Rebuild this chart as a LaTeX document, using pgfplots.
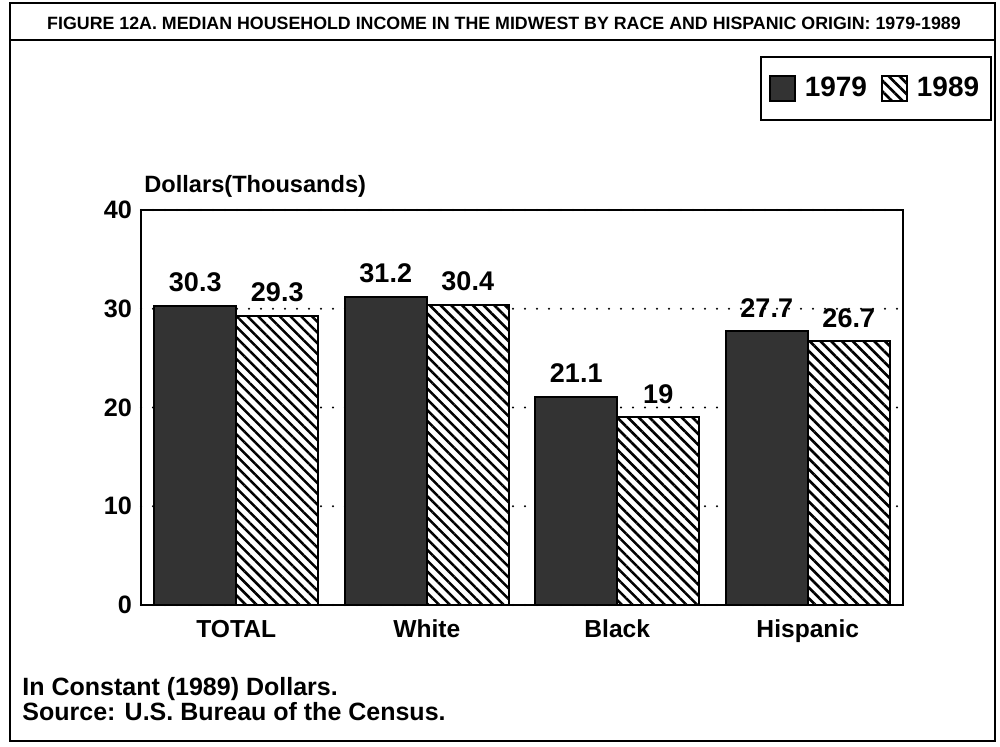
\documentclass[border=0pt]{standalone}
\usepackage{fontspec}
\setmainfont{Liberation Sans}
\usepackage{pgfplots}
\pgfplotsset{compat=1.18}
\usetikzlibrary{patterns.meta}

\begin{document}
\begin{tikzpicture}[x=1pt,y=1pt,font=\bfseries]
\path (0,0) rectangle (500,373);
\draw[line width=1pt] (5,2.5) rectangle (497.5,371.5);
\draw[line width=0.9pt] (5,353) -- (497.5,353);
\node[font=\bfseries\fontsize{8.9}{11}\selectfont] at (252,361.5)
  {FIGURE 12A. MEDIAN HOUSEHOLD INCOME IN THE MIDWEST BY RACE AND HISPANIC ORIGIN: 1979-1989};

\begin{axis}[
  at={(70.5pt,70.5pt)}, anchor=south west,
  scale only axis, width=381pt, height=197.5pt,
  ybar=0pt, bar width=41pt,
  xmin=-0.5, xmax=3.5, ymin=0, ymax=40,
  xtick={0,1,2,3}, xticklabels={TOTAL,White,Black,Hispanic},
  ytick={0,10,20,30,40},
  major tick length=0pt,
  ymajorgrids,
  grid style={black, line width=1.1pt, dash pattern=on 0pt off 6pt, line cap=round},
  axis line style={line width=1pt},
  yticklabel style={font=\bfseries\fontsize{12.6}{15}\selectfont, xshift=-1pt},
  xticklabel style={font=\bfseries\fontsize{12.3}{15}\selectfont, text height=9pt, text depth=2.5pt, yshift=-3.5pt},
  /pgf/number format/assume math mode=true,
  nodes near coords,
  every node near coord/.append style={font=\bfseries\fontsize{13.5}{16}\selectfont, yshift=3pt},
  legend columns=2,
  legend style={at={(1.117,1.39)}, anchor=north east, draw=black, line width=1pt,
    font=\bfseries\fontsize{14}{16}\selectfont, inner xsep=4pt, inner ysep=8pt,
    /tikz/every even column/.append style={column sep=5pt}},
  legend image code/.code={\draw[#1, line width=0.8pt] (0pt,-6.25pt) rectangle (12.5pt,6.25pt);\path (15pt,0pt);},
]
\addplot[draw=black, line width=1pt, fill=black!80]
  coordinates {(0,30.3) (1,31.2) (2,21.1) (3,27.7)};
\addlegendentry{1979}
\addplot[draw=black, line width=1pt, preaction={fill=white},
  pattern={Lines[angle=-45,distance=3.8pt,line width=1.3pt]}, pattern color=black]
  coordinates {(0,29.3) (1,30.4) (2,19) (3,26.7)};
\addlegendentry{1989}
\end{axis}

\node[anchor=base west, inner sep=0pt, font=\bfseries\fontsize{11.8}{14}\selectfont] at (72,276.5) {Dollars(Thousands)};
\node[anchor=base west, inner sep=0pt, font=\bfseries\fontsize{12.5}{15}\selectfont] at (11,25.5) {In Constant (1989) Dollars.};
\node[anchor=base west, inner sep=0pt, font=\bfseries\fontsize{12.5}{15}\selectfont] at (11,13) {Source: U.S. Bureau of the Census.};
\end{tikzpicture}
\end{document}
